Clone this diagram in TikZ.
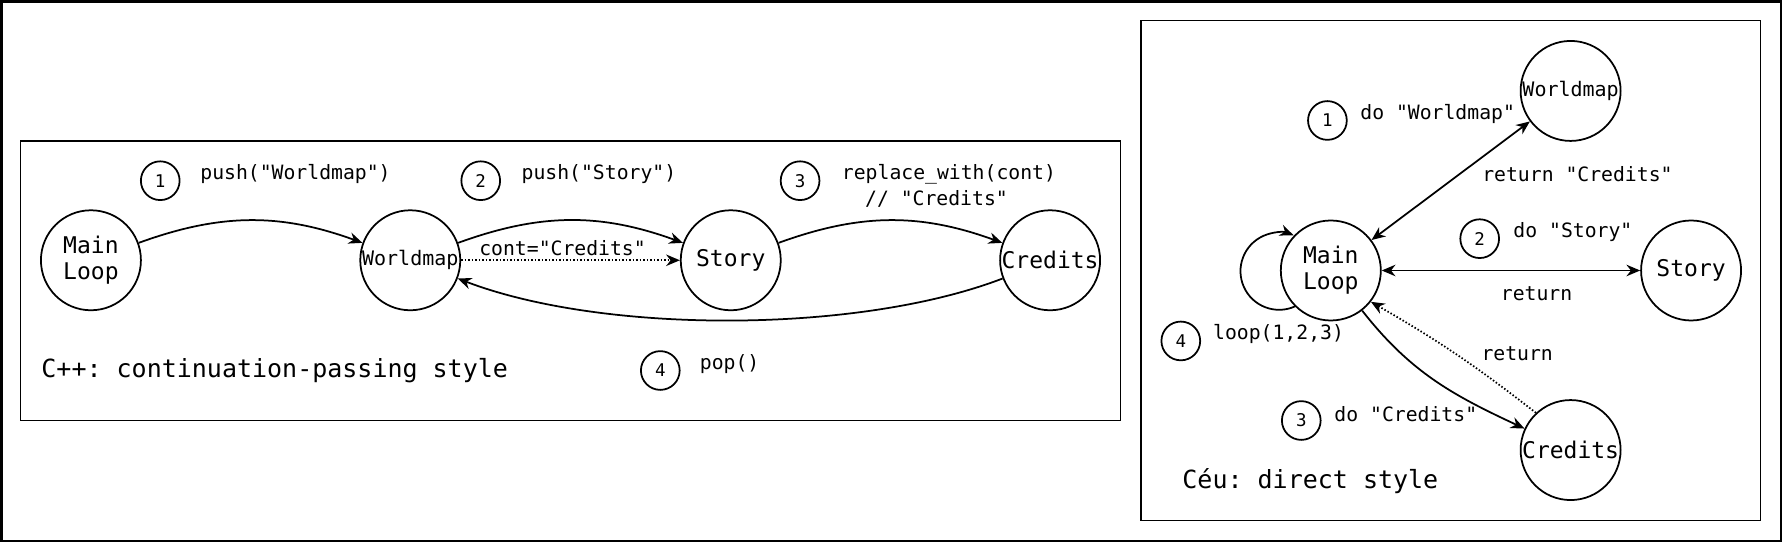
\documentclass[tikz,border=0pt]{standalone}
\usepackage{fontspec}
\setmonofont{DejaVu Sans Mono}
\usetikzlibrary{arrows.meta}
\begin{document}
\frenchspacing
\begin{tikzpicture}[x=0.4546pt,y=0.4546pt,
  state/.style={draw, circle, line width=0.7pt, minimum size=40pt, inner sep=0pt},
  bigtxt/.style={font=\ttfamily\fontsize{9.2}{10.5}\selectfont},
  smalltxt/.style={font=\ttfamily\fontsize{8}{9.5}\selectfont},
  badge/.style={draw, circle, line width=0.7pt, minimum size=15.5pt, inner sep=0pt, font=\ttfamily\fontsize{7}{8}\selectfont},
  lbl/.style={font=\ttfamily\fontsize{7.9}{9.5}\selectfont, inner sep=0pt},
  ttl/.style={font=\ttfamily\fontsize{10}{12}\selectfont, inner sep=0pt, anchor=west},
  frame/.style={draw, line width=0.7pt},
  arr/.style={line width=0.7pt, -{Stealth[length=5.5pt,width=4.6pt]}},
  darr/.style={line width=0.7pt, {Stealth[length=5.5pt,width=4.6pt]}-{Stealth[length=5.5pt,width=4.6pt]}},
  dots/.style={dash pattern=on 0.6pt off 0.8pt}
]
\useasboundingbox (0,0) rectangle (1568,-477);
\draw[line width=1pt] (1.1,-1.1) rectangle (1566.9,-475.9);

% ---------- left panel ----------
\draw[frame] (18,-124) rectangle (986,-370);
\node[state,bigtxt,align=center] (ml) at (80,-229) {Main\\Loop};
\node[state,smalltxt] (wm) at (361,-229) {Worldmap};
\node[state,bigtxt] (st) at (643,-229) {Story};
\node[state,bigtxt] (cr) at (924,-229) {Credits};

\node[badge] (b1) at (141,-159) {1};
\node[badge] (b2) at (423,-159) {2};
\node[badge] (b3) at (704,-159) {3};
\node[badge] (b4) at (581,-326) {4};

\node[lbl] (l1) at (260,-153) {push("Worldmap")};
\node[lbl] (l2) at (527,-153) {push("Story")};
\node[lbl] (l3) at (835,-153) {replace\_with(cont)};
\node[lbl] (l3b) at (824,-175) {// "Credits"};
\node[lbl] (l4) at (642,-320) {pop()};
\node[lbl] (lc) at (495,-218) {cont="Credits"};
\node[ttl] (t1) at (36,-326) {C++: continuation-passing style};

\draw[arr] (ml) to[bend left=20] (wm);
\draw[arr] (wm) to[bend left=20] (st);
\draw[arr] (st) to[bend left=20] (cr);
\draw[arr] (cr.201) to[out=201,in=-21,looseness=0.73] (wm.-21);
\draw[arr,dots] (wm) -- (st);

% ---------- right panel ----------
\draw[frame] (1004,-18) rectangle (1549,-458);
\node[state,smalltxt] (wm2) at (1382,-80) {Worldmap};
\node[state,bigtxt,align=center] (ml2) at (1171,-238) {Main\\Loop};
\node[state,bigtxt] (st2) at (1488,-238) {Story};
\node[state,bigtxt] (cr2) at (1382,-396) {Credits};

\node[badge] (c1) at (1168,-106) {1};
\node[badge] (c2) at (1302,-210) {2};
\node[badge] (c3) at (1145,-370) {3};
\node[badge] (c4) at (1039,-300) {4};

\node[lbl] (m1) at (1265,-100) {do "Worldmap"};
\node[lbl] (m1r) at (1388,-153) {return "Credits"};
\node[lbl] (m2) at (1384,-204) {do "Story"};
\node[lbl] (m2r) at (1352,-258) {return};
\node[lbl] (m3) at (1237,-364) {do "Credits"};
\node[lbl] (m3r) at (1335,-311) {return};
\node[lbl] (m4) at (1125,-294) {loop(1,2,3)};
\node[ttl] (t2) at (1040,-423) {Céu: direct style};

\draw[darr] (ml2) -- (wm2);
\draw[darr] (ml2) -- (st2);
\draw[arr] (ml2.-52) to[out=-52,in=155] (cr2.155);
\draw[arr,dots] (cr2.133) to[bend right=4] (ml2.-38);
\draw[arr] (ml2.-135) arc[start angle=-66, end angle=-292, radius=34];
\end{tikzpicture}
\end{document}
